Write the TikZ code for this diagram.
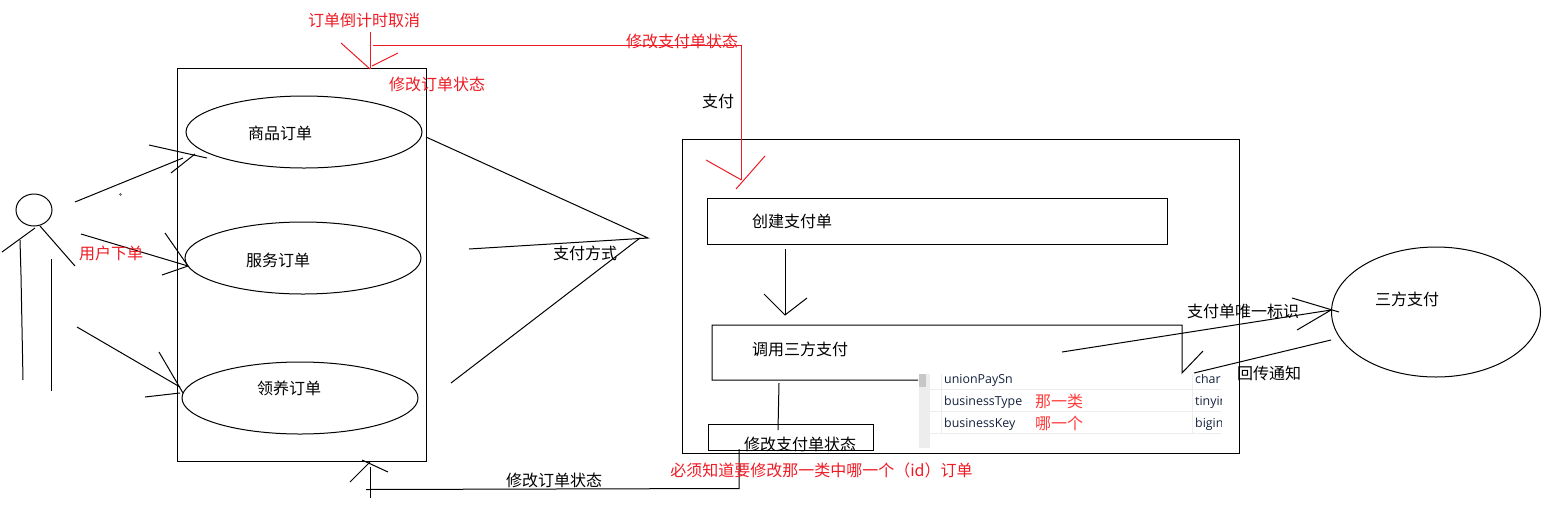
\documentclass[tikz,border=0pt]{standalone}
\usepackage{fontspec}
\setmainfont{Noto Sans CJK SC}
\newfontfamily\latinui{Open Sans}
\usetikzlibrary{shapes.geometric}
\definecolor{paintred}{HTML}{ED1C24}
\definecolor{tablered}{HTML}{FF3B3B}
\definecolor{tabletext}{HTML}{14213D}
\tikzset{
  ink/.style={line width=1pt,draw=black},
  redink/.style={line width=1pt,draw=paintred},
  blackbox/.style={rectangle,draw=black,line width=1pt,inner sep=0pt,outer sep=0pt,anchor=north west},
  usecase/.style={ellipse,draw=black,line width=1pt,inner sep=0pt,outer sep=0pt,minimum width=236pt,minimum height=72pt},
  lbl/.style={inner sep=0pt,font=\fontsize{16}{16}\selectfont},
  redlbl/.style={lbl,text=paintred},
  tredlbl/.style={lbl,text=tablered},
  cell/.style={inner sep=0pt,anchor=base west,text=tabletext,font=\latinui\fontsize{12.4}{12.4}\selectfont},
  rowline/.style={line width=1pt,draw=black!7}
}
\begin{document}
\begin{tikzpicture}[x=1pt,y=-1pt]
\useasboundingbox (0,0) rectangle (1558,531);
% main containers
\node[blackbox,minimum width=249pt,minimum height=393pt] (orders) at (177,68) {};
\node[blackbox,minimum width=557pt,minimum height=314pt] (paybox) at (682,139) {};
\node[blackbox,minimum width=460pt,minimum height=46pt] (create) at (707,198) {};
\node[blackbox,minimum width=165pt,minimum height=26pt] (status) at (708,424) {};
% use cases
\node[usecase] (goods) at (304,132) {};
\node[usecase] (service) at (303,258) {};
\node[usecase] (adopt) at (300,398) {};
\node[ellipse,draw=black,line width=1pt,inner sep=0pt,outer sep=0pt,minimum width=209pt,minimum height=130pt] (third) at (1436,312) {};
% actor
\node[ellipse,draw=black,line width=1pt,inner sep=0pt,outer sep=0pt,minimum width=36pt,minimum height=32pt] (head) at (34,210) {};
\coordinate (larmA) at (35,228); \coordinate (larmB) at (2,252);
\coordinate (rarmA) at (40,226); \coordinate (rarmB) at (75,266);
\coordinate (llegA) at (20,240); \coordinate (llegM) at (21,275); \coordinate (llegB) at (23,380);
\coordinate (rlegA) at (51,259); \coordinate (rlegB) at (51,391);
\draw[ink] (larmA) -- (larmB);
\draw[ink] (rarmA) -- (rarmB);
\draw[ink] (llegA) -- (llegM) -- (llegB);
\draw[ink] (rlegA) -- (rlegB);
% actor arrows
\coordinate (aA) at (75,202); \coordinate (aB) at (183,158);
\coordinate (aC) at (149,145); \coordinate (aD) at (207,158); \coordinate (aE) at (195,154); \coordinate (aF) at (171,173);
\draw[ink] (aA) -- (aB); \draw[ink] (aC) -- (aD); \draw[ink] (aE) -- (aF);
\coordinate (bA) at (81,234); \coordinate (bB) at (188,266);
\coordinate (bC) at (165,233); \coordinate (bD) at (162,275);
\draw[ink] (bA) -- (bB); \draw[ink] (bC) -- (bB); \draw[ink] (bD) -- (bB);
\coordinate (cA) at (77,327); \coordinate (cB) at (180,387);
\coordinate (cC) at (159,352); \coordinate (cD) at (183,393); \coordinate (cE) at (145,397); \coordinate (cF) at (180,393);
\draw[ink] (cA) -- (cB); \draw[ink] (cC) -- (cD); \draw[ink] (cE) -- (cF);
% small stray dot
\coordinate (dot) at (120.5,194.5);
\draw[line width=.5pt,draw=black!70] (dot) circle (1pt);
% payment method brace
\coordinate (mA) at (426,137); \coordinate (mB) at (648,238); \coordinate (mC) at (469,249);
\coordinate (mD) at (640,238); \coordinate (mE) at (451,383);
\draw[ink] (mA) -- (mB) -- (mC);
\draw[ink] (mD) -- (mE);
% create -> call
\coordinate (dA) at (785,249); \coordinate (dB) at (785,315); \coordinate (dC) at (764,294); \coordinate (dD) at (807,298);
\draw[ink] (dA) -- (dB); \draw[ink] (dC) -- (dB) -- (dD);
% call box (partly covered by the pasted table)
\coordinate (cbA) at (918,380); \coordinate (cbB) at (712,380); \coordinate (cbC) at (712,325);
\coordinate (cbD) at (1182,325); \coordinate (cbE) at (1182,373); \coordinate (cbF) at (1203,351);
\draw[ink] (cbA) -- (cbB) -- (cbC) -- (cbD) -- (cbE) -- (cbF);
\coordinate (sA) at (779,383); \coordinate (sB) at (778,430);
\draw[ink] (sA) -- (sB);
% pasted table
\fill[black!7] (919,374) rectangle (930,448);
\fill[black!22] (919,374) rectangle (926,387);
\draw[rowline] (930,389.5) -- (1221,389.5);
\draw[rowline] (930,411.5) -- (1221,411.5);
\draw[rowline] (930,433.5) -- (1221,433.5);
\draw[rowline] (941.5,374) -- (941.5,433.5);
\draw[rowline] (1192.5,374) -- (1192.5,433.5);
\node[cell] (r1) at (944,383) {unionPaySn};
\node[cell] (r2) at (944,405) {businessType};
\node[cell] (r3) at (944,427) {businessKey};
\begin{scope}
\clip (1190,374) rectangle (1221,440);
\node[cell] (t1) at (1195,383) {char};
\node[cell] (t2) at (1195,405) {tinyint};
\node[cell] (t3) at (1195,427) {bigint};
\end{scope}
% third-party arrows
\coordinate (tA) at (1062,352); \coordinate (tB) at (1331,310);
\coordinate (tC) at (1292,298); \coordinate (tD) at (1339,312); \coordinate (tE) at (1297,330);
\draw[ink] (tA) -- (tB); \draw[ink] (tC) -- (tD); \draw[ink] (tE) -- (tB);
\coordinate (uA) at (1331,340); \coordinate (uB) at (1194,373);
\draw[ink] (uA) -- (uB);
% bottom connector
\coordinate (vA) at (739,449); \coordinate (vB) at (739,488.5); \coordinate (vC) at (366,489.5);
\coordinate (vD) at (370,498); \coordinate (vE) at (370,467);
\coordinate (vF) at (350,482); \coordinate (vG) at (370,462); \coordinate (vH) at (362,460); \coordinate (vI) at (388,472);
\draw[ink] (vA) -- (vB) -- (vC);
\draw[ink] (vD) -- (vE);
\draw[ink] (vF) -- (vG); \draw[ink] (vH) -- (vI);
% red connectors
\coordinate (wA) at (370,32); \coordinate (wB) at (370,69);
\coordinate (wC) at (341,43); \coordinate (wD) at (398,53); \coordinate (wE) at (372,66);
\draw[redink] (wA) -- (wB);
\draw[redink] (wC) -- (wB);
\draw[redink] (wE) -- (wD);
\coordinate (xA) at (373,45); \coordinate (xB) at (741.5,45); \coordinate (xC) at (741.5,180);
\coordinate (xD) at (706,160); \coordinate (xE) at (765,156); \coordinate (xF) at (736,189);
\draw[redink] (xA) -- (xB) -- (xC);
\draw[redink] (xD) -- (xC);
\draw[redink] (xE) -- (xF);
% labels
\node[lbl] (l1) at (280,133) {商品订单};
\node[lbl] (l2) at (278,260) {服务订单};
\node[lbl] (l3) at (289,388) {领养订单};
\node[lbl] (l4) at (585,253) {支付方式};
\node[lbl] (l5) at (792,221) {创建支付单};
\node[lbl] (l6) at (800,349) {调用三方支付};
\node[lbl] (l7) at (800,444) {修改支付单状态};
\node[lbl] (l8) at (554,480) {修改订单状态};
\node[lbl] (l9) at (718,101) {支付};
\node[lbl] (l10) at (1407,299) {三方支付};
\node[lbl] (l11) at (1243,311) {支付单唯一标识};
\node[lbl] (l12) at (1269,373) {回传通知};
\node[redlbl] (r4) at (111,253) {用户下单};
\node[redlbl] (r5) at (364,20) {订单倒计时取消};
\node[redlbl] (r6) at (437,84) {修改订单状态};
\node[redlbl] (r7) at (682,41) {修改支付单状态};
\node[redlbl] (r8) at (821.5,470) {必须知道要修改那一类中哪一个（id）订单};
\node[tredlbl] (r9) at (1059,401) {那一类};
\node[tredlbl] (r10) at (1059,423) {哪一个};
\end{tikzpicture}
\end{document}
